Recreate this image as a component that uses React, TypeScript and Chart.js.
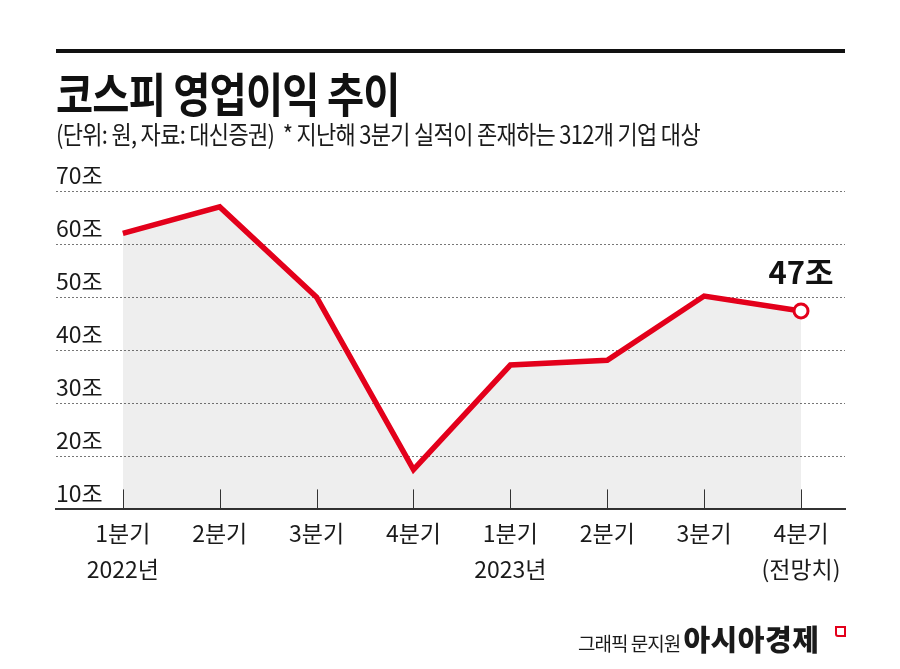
import React, { useEffect, useRef } from "react";
import { Chart, registerables } from "chart.js";

Chart.register(...registerables);

const quarters = ["1분기", "2분기", "3분기", "4분기", "1분기", "2분기", "3분기", "4분기"];
const subLabels = ["2022년", "", "", "", "2023년", "", "", "(전망치)"];
const profits = [62, 67, 50, 17.5, 37.2, 38.1, 50.2, 47.4];
const yTicks = [10, 20, 30, 40, 50, 60, 70];
const lastLabel = "47조";

const RED = "#e3001b";
const FONT = "'Liberation Sans Narrow', 'Noto Sans CJK KR', sans-serif";

const quarterTicks = {
  id: "quarterTicks",
  afterDatasetsDraw(chart: any) {
    const { ctx, chartArea, scales } = chart;
    ctx.save();
    ctx.strokeStyle = "#333";
    ctx.lineWidth = 1;
    quarters.forEach((_, i) => {
      const x = Math.round(scales.x.getPixelForValue(i)) + 0.5;
      ctx.beginPath();
      ctx.moveTo(x, chartArea.bottom - 20);
      ctx.lineTo(x, chartArea.bottom);
      ctx.stroke();
    });
    // value label above the last point
    const meta = chart.getDatasetMeta(0);
    const pt = meta.data[meta.data.length - 1];
    ctx.fillStyle = "#111";
    ctx.font = "bold 31px " + FONT;
    ctx.textAlign = "center";
    ctx.textBaseline = "middle";
    ctx.fillText(lastLabel, pt.x, pt.y - 39);
    ctx.restore();
  },
};

function KospiChart() {
  const chartRef = useRef(null) as any;
  const chartInstance = useRef(null) as any;

  useEffect(() => {
    if (chartInstance.current) {
      chartInstance.current.destroy();
    }
    const myChartRef = chartRef.current?.getContext("2d");

    chartInstance.current = new Chart(myChartRef, {
      type: "line",
      data: {
        datasets: [
          {
            data: profits.map((v, i) => ({ x: i, y: v })),
            borderColor: RED,
            borderWidth: 5.5,
            borderJoinStyle: "miter",
            backgroundColor: "rgba(0,0,0,0.065)",
            fill: "start",
            tension: 0,
            pointRadius: profits.map((_, i) => (i === profits.length - 1 ? 7 : 0)),
            pointBackgroundColor: "#fff",
            pointBorderColor: RED,
            pointBorderWidth: 3,
          },
        ],
      },
      options: {
        animation: false,
        responsive: false,
        events: [],
        layout: { padding: { left: 56, right: 55, top: 191, bottom: 76 } },
        plugins: { legend: { display: false }, tooltip: { enabled: false } },
        scales: {
          x: {
            type: "linear",
            min: -0.69,
            max: 7.454,
            afterBuildTicks: (scale: any) => {
              scale.ticks = quarters.map((_, i) => ({ value: i }));
            },
            grid: { display: false, drawTicks: false },
            border: { color: "#333", width: 2 },
            ticks: {
              autoSkip: false,
              maxRotation: 0,
              padding: 5,
              color: "#1a1a1a",
              font: { family: FONT, size: 23, lineHeight: 1.6 },
              callback: (v: any) => {
                const i = Math.round(v);
                return subLabels[i] ? [quarters[i], subLabels[i]] : quarters[i];
              },
            },
          },
          y: {
            min: 10,
            max: 70,
            afterBuildTicks: (scale: any) => {
              scale.ticks = yTicks.map((v) => ({ value: v }));
            },
            grid: { color: "#777", lineWidth: 1, drawTicks: false },
            border: { display: false, dash: [2, 2] },
            ticks: {
              mirror: true,
              padding: 0,
              labelOffset: -16,
              color: "#1a1a1a",
              font: { family: FONT, size: 23 },
              callback: (v: any) => v + "조",
            },
          },
        },
      },
      plugins: [quarterTicks],
    } as any);

    return () => {
      if (chartInstance.current) {
        chartInstance.current.destroy();
      }
    };
  }, []);

  return (
    <canvas
      ref={chartRef}
      width={900}
      height={669}
      style={{ position: "absolute", left: 0, top: 0, width: 900, height: 669 }}
    ></canvas>
  );
}

export default function App() {
  const kr = "'Noto Sans CJK KR', sans-serif";
  return (
    <div
      style={{
        position: "absolute",
        left: 0,
        top: 0,
        width: 900,
        height: 669,
        background: "#fff",
        overflow: "hidden",
        fontFamily: kr,
        color: "#111",
      }}
    >
      <KospiChart />
      <div style={{ position: "absolute", left: 56, top: 49, width: 789, height: 4, background: "#111" }} />
      <div
        style={{
          position: "absolute",
          left: 56,
          top: 62,
          fontSize: 47,
          fontWeight: 700,
          lineHeight: "60px",
          whiteSpace: "nowrap",
          transform: "scaleX(0.86)",
          transformOrigin: "left top",
          letterSpacing: -1,
        }}
      >
        코스피 영업이익 추이
      </div>
      <div
        style={{
          position: "absolute",
          left: 56,
          top: 117,
          fontSize: 25,
          lineHeight: "32px",
          whiteSpace: "nowrap",
          transform: "scaleX(0.88)",
          transformOrigin: "left top",
          letterSpacing: -0.8,
          color: "#1a1a1a",
        }}
      >
        (단위: 원, 자료: 대신증권)&nbsp;&nbsp;* 지난해 3분기 실적이 존재하는 312개 기업 대상
      </div>
      <div
        style={{
          position: "absolute",
          left: 578,
          top: 622,
          fontSize: 19,
          lineHeight: "32px",
          whiteSpace: "nowrap",
          color: "#1a1a1a",
          letterSpacing: -1,
        }}
      >
        그래픽 문지원&nbsp;
        <span style={{ fontSize: 29, fontWeight: 900, letterSpacing: 0.5 }}>아시아경제</span>
      </div>
      <div
        style={{
          position: "absolute",
          left: 835,
          top: 626,
          width: 7,
          height: 7,
          border: "2px solid " + RED,
          borderRadius: "0 0 0 3px",
        }}
      />
    </div>
  );
}
